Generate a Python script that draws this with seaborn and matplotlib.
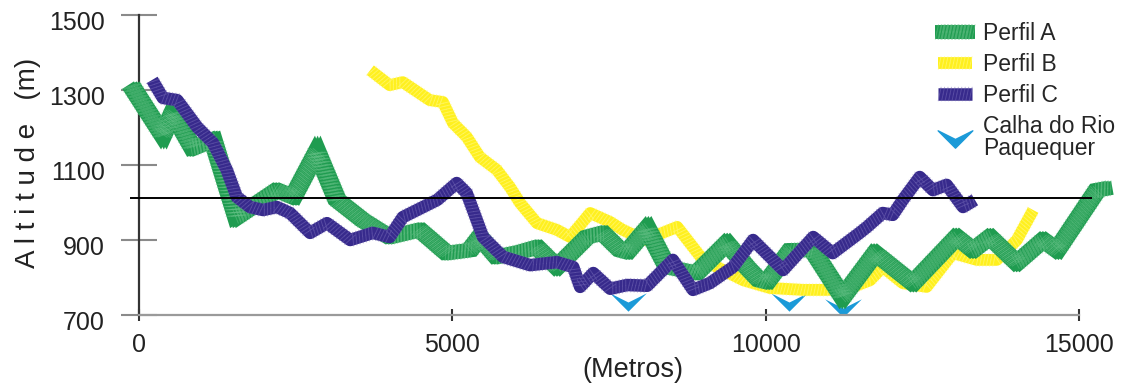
import numpy as np
import matplotlib
matplotlib.use("Agg")
import matplotlib.pyplot as plt
import matplotlib.patheffects as pe
import matplotlib.transforms as mtrans
from matplotlib.path import Path
from matplotlib.lines import Line2D
import seaborn as sns

# ---- data (metros, altitude m) ----
perfil_a_x = [-130, 380, 540, 860, 1180, 1560, 2200, 2460, 2840, 3160, 3570, 4000,
              4480, 4910, 5280, 5440, 5710, 6080, 6350, 6670, 7150, 7400, 7680, 7790,
              8110, 8430, 8900, 9380, 9700, 9900, 10020, 10400, 10750, 11230, 11750, 12350,
              13050, 13310, 13580, 14010, 14430, 14650, 15290, 15490]
perfil_a_y = [1313, 1180, 1239, 1145, 1167, 961, 1033, 1015, 1135, 1007, 953, 908,
              927, 865, 873, 908, 855, 868, 881, 828, 908, 919, 873, 868,
              931, 828, 812, 892, 828, 793, 788, 873, 873, 748, 865, 785,
              908, 873, 908, 839, 900, 873, 1033, 1039]

perfil_b_x = [3690, 4000, 4210, 4640, 4850, 5010, 5230, 5440, 5710, 5920, 6080, 6350,
              6670, 6880, 7200, 7520, 7720, 8070, 8590, 9000, 9640, 10070, 10600, 10980,
              11350, 11670, 11870, 12190, 12570, 12990, 13370, 13690, 14010, 14270]
perfil_b_y = [1353, 1313, 1321, 1273, 1268, 1212, 1175, 1121, 1087, 1041, 999, 945,
              927, 908, 972, 948, 927, 900, 935, 847, 793, 772, 767, 767,
              772, 793, 828, 785, 775, 865, 847, 847, 900, 980]

perfil_c_x = [210, 380, 610, 930, 1180, 1400, 1560, 1770, 1980, 2200, 2410, 2730,
              3000, 3370, 3730, 4000, 4210, 4760, 5070, 5230, 5490, 5810, 6240, 6670,
              6930, 7040, 7250, 7520, 7790, 8110, 8520, 8840, 9110, 9480, 9800, 10280,
              10760, 11070, 11500, 11620, 11870, 12030, 12190, 12460, 12670, 12890, 13150, 13340]
perfil_c_y = [1327, 1279, 1273, 1201, 1159, 1087, 1015, 988, 980, 988, 972, 919,
              945, 900, 919, 908, 961, 1007, 1052, 1025, 908, 855, 833, 841,
              828, 775, 812, 770, 780, 778, 847, 767, 785, 828, 900, 820,
              908, 865, 919, 935, 972, 967, 1007, 1068, 1033, 1047, 988, 1007]

calha_x = [7800, 10370, 11230]
calha_y = [735, 736, 720]

ref_alt = 1012
ref_x0, ref_x1 = -150, 15210

labels = ["Perfil A", "Perfil B", "Perfil C", "Calha do Rio\nPaquequer"]
xticks = [0, 5000, 10000, 15000]
yticks = [700, 900, 1100, 1300, 1500]

# ---- style ----
sns.set_style("white")
plt.rcParams["font.family"] = ["Liberation Sans", "DejaVu Sans"]

GREEN, GREEN_L = "#1f9c50", "#6cc48c"
YELLOW, YELLOW_L = "#fff01e", "#fffa8a"
PURPLE, PURPLE_L = "#372a8c", "#7468b6"
BLUE = "#1b9ad8"


def brush(color, streak, width, reach, nib=0, join="round", alpha=0.55):
    # thick stroke with light streaks across it, to mimic the hand-drawn brush;
    # nib > 0 widens the stroke sideways like a flat pen
    fx = []
    shifts = [-nib, 0, nib] if nib else [0]
    for dx in shifts:
        fx.append(pe.Stroke(offset=(dx, 0), linewidth=width, foreground=color,
                            capstyle="butt", joinstyle=join))
    for dx in shifts:
        fx.append(pe.TickedStroke(offset=(dx, 0), spacing=2.4, angle=78, length=reach,
                                  linewidth=0.7, foreground=streak, alpha=alpha))
        fx.append(pe.TickedStroke(offset=(dx, 0), spacing=2.4, angle=-102, length=reach,
                                  linewidth=0.7, foreground=streak, alpha=alpha))
    return fx


fx_a = brush(GREEN, GREEN_L, 10, 2.3, nib=2, join="miter", alpha=0.45)
fx_b = brush(YELLOW, YELLOW_L, 8.5, 2.0)
fx_c = brush(PURPLE, PURPLE_L, 9, 2.1, alpha=0.5)

chevron = Path([(-1, 0.5), (0, -0.5), (1, 0.5), (0, 0.0), (-1, 0.5)],
               [Path.MOVETO, Path.LINETO, Path.LINETO, Path.LINETO, Path.CLOSEPOLY])

fig = plt.figure(figsize=(11.32, 3.89), dpi=100)
ax = fig.add_axes([0.0896, 0.1902, 0.8967, 0.7712])

sns.scatterplot(x=calha_x, y=calha_y, marker=chevron, s=700, color=BLUE,
                linewidth=0, ax=ax, zorder=1)
sns.lineplot(x=perfil_b_x, y=perfil_b_y, sort=False, color=YELLOW, lw=8.5,
             path_effects=fx_b, ax=ax, zorder=2)
sns.lineplot(x=perfil_a_x, y=perfil_a_y, sort=False, color=GREEN, lw=10,
             path_effects=fx_a, ax=ax, zorder=3)
sns.lineplot(x=perfil_c_x, y=perfil_c_y, sort=False, color=PURPLE, lw=9,
             path_effects=fx_c, ax=ax, zorder=4)

ax.hlines(ref_alt, ref_x0, ref_x1, color="black", lw=1.4, zorder=6)

ax.set_xlim(-600, 15600)
ax.set_ylim(700, 1500)

for s in ["top", "right"]:
    ax.spines[s].set_visible(False)
ax.spines["left"].set_position(("data", 0))
ax.spines["left"].set_color("#333333")
ax.spines["left"].set_linewidth(1.6)
ax.spines["bottom"].set_bounds(0, 15000)
ax.spines["bottom"].set_color("#9a9a9a")
ax.spines["bottom"].set_linewidth(1.6)

ax.set_xticks(xticks)
ax.set_yticks(yticks)
ax.tick_params(axis="y", left=True, direction="inout", length=26, width=1.5, color="#8a8a8a",
               pad=11.5, labelsize=18, labelcolor="#222222")
ax.tick_params(axis="x", bottom=True, direction="inout", length=9, width=1.5, color="#333333",
               pad=8.5, labelsize=18, labelcolor="#222222")
for lab in ax.get_yticklabels():
    lab.set_transform(lab.get_transform() + mtrans.ScaledTranslation(0, -0.05, fig.dpi_scale_trans))

ax.set_ylabel("A l t i t u d e   (m)", fontsize=20, color="#222222", va="center")
ax.yaxis.set_label_coords(-0.072, 0.507)
ax.set_xlabel("(Metros)", fontsize=19.5, color="#222222", va="center")
ax.xaxis.set_label_coords(0.524, -0.183)

handles = [
    Line2D([], [], color=GREEN, lw=10, path_effects=fx_a),
    Line2D([], [], color=YELLOW, lw=8.5, path_effects=fx_b),
    Line2D([], [], color=PURPLE, lw=9, path_effects=fx_c),
    Line2D([], [], color=BLUE, marker=chevron, markersize=25, linestyle="none"),
]
leg = ax.legend(handles, labels, loc="upper left", bbox_to_anchor=(938 / 1132, 1 - 22 / 389),
                bbox_transform=fig.transFigure, frameon=False, fontsize=16.5, borderpad=0,
                borderaxespad=0, handlelength=1.5, handletextpad=0.45, labelspacing=0.35)
for t in leg.get_texts():
    t.set_linespacing(0.95)

fig.savefig("out.png", dpi=100)
